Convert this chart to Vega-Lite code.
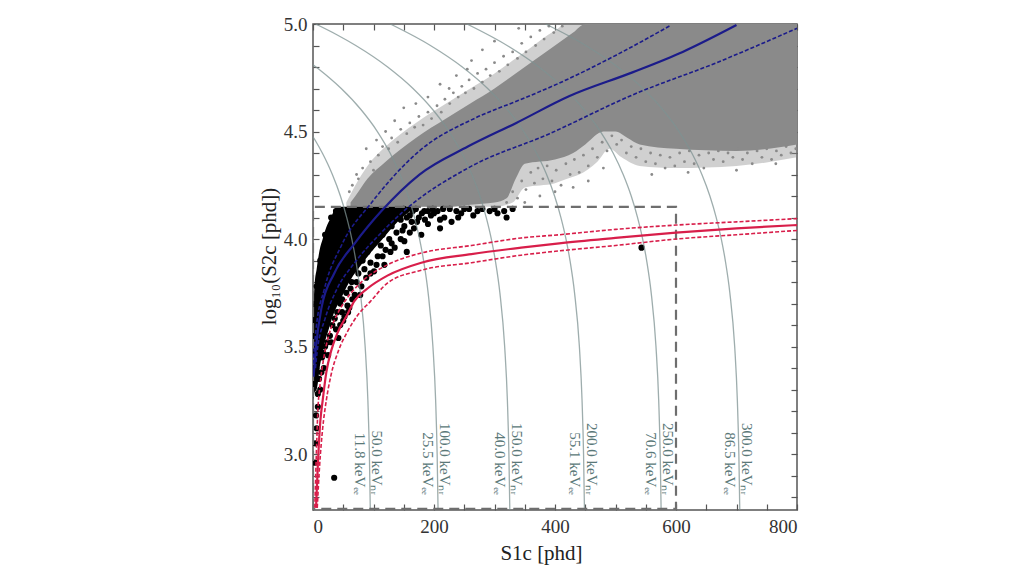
{
  "$schema": "https://vega.github.io/schema/vega-lite/v6.json",
  "autosize": {"type": "none"},
  "padding": {"left": 313, "top": 24, "right": 227, "bottom": 66},
  "width": 484,
  "height": 486,
  "background": "white",
  "datasets": {
    "contours": [
      {"e": "50", "s1": 94.7, "s2": 2.74}, {"e": "50", "s1": 93.2, "s2": 3.0}, {"e": "50", "s1": 90.7, "s2": 3.25}, {"e": "50", "s1": 86.2, "s2": 3.5},
      {"e": "50", "s1": 78.3, "s2": 3.75}, {"e": "50", "s1": 70.8, "s2": 3.9}, {"e": "50", "s1": 64.2, "s2": 4.0}, {"e": "50", "s1": 55.8, "s2": 4.1},
      {"e": "50", "s1": 45.3, "s2": 4.2}, {"e": "50", "s1": 32.0, "s2": 4.3}, {"e": "50", "s1": 24.2, "s2": 4.35}, {"e": "50", "s1": 15.4, "s2": 4.4},
      {"e": "50", "s1": 5.5, "s2": 4.45}, {"e": "50", "s1": 0, "s2": 4.475},
      {"e": "100", "s1": 206.7, "s2": 2.74}, {"e": "100", "s1": 205.2, "s2": 3.0}, {"e": "100", "s1": 202.7, "s2": 3.25}, {"e": "100", "s1": 198.2, "s2": 3.5},
      {"e": "100", "s1": 190.3, "s2": 3.75}, {"e": "100", "s1": 182.8, "s2": 3.9}, {"e": "100", "s1": 176.2, "s2": 4.0}, {"e": "100", "s1": 167.8, "s2": 4.1},
      {"e": "100", "s1": 157.3, "s2": 4.2}, {"e": "100", "s1": 144.0, "s2": 4.3}, {"e": "100", "s1": 127.4, "s2": 4.4}, {"e": "100", "s1": 106.4, "s2": 4.5},
      {"e": "100", "s1": 79.9, "s2": 4.6}, {"e": "100", "s1": 46.7, "s2": 4.7}, {"e": "100", "s1": 26.9, "s2": 4.75}, {"e": "100", "s1": 13.9, "s2": 4.78},
      {"e": "100", "s1": 4.8, "s2": 4.8}, {"e": "100", "s1": 0, "s2": 4.81},
      {"e": "150", "s1": 325.3, "s2": 2.74}, {"e": "150", "s1": 323.8, "s2": 3.0}, {"e": "150", "s1": 321.3, "s2": 3.25}, {"e": "150", "s1": 316.8, "s2": 3.5},
      {"e": "150", "s1": 308.9, "s2": 3.75}, {"e": "150", "s1": 301.4, "s2": 3.9}, {"e": "150", "s1": 294.8, "s2": 4.0}, {"e": "150", "s1": 286.4, "s2": 4.1},
      {"e": "150", "s1": 275.9, "s2": 4.2}, {"e": "150", "s1": 262.6, "s2": 4.3}, {"e": "150", "s1": 246.0, "s2": 4.4}, {"e": "150", "s1": 225.0, "s2": 4.5},
      {"e": "150", "s1": 198.5, "s2": 4.6}, {"e": "150", "s1": 165.3, "s2": 4.7}, {"e": "150", "s1": 123.4, "s2": 4.8}, {"e": "150", "s1": 70.7, "s2": 4.9},
      {"e": "150", "s1": 39.4, "s2": 4.95}, {"e": "150", "s1": 4.3, "s2": 5.0},
      {"e": "200", "s1": 448.7, "s2": 2.74}, {"e": "200", "s1": 447.2, "s2": 3.0}, {"e": "200", "s1": 444.7, "s2": 3.25}, {"e": "200", "s1": 440.3, "s2": 3.5},
      {"e": "200", "s1": 432.3, "s2": 3.75}, {"e": "200", "s1": 424.8, "s2": 3.9}, {"e": "200", "s1": 418.2, "s2": 4.0}, {"e": "200", "s1": 409.8, "s2": 4.1},
      {"e": "200", "s1": 399.3, "s2": 4.2}, {"e": "200", "s1": 386.1, "s2": 4.3}, {"e": "200", "s1": 369.4, "s2": 4.4}, {"e": "200", "s1": 348.4, "s2": 4.5},
      {"e": "200", "s1": 322.0, "s2": 4.6}, {"e": "200", "s1": 288.7, "s2": 4.7}, {"e": "200", "s1": 246.8, "s2": 4.8}, {"e": "200", "s1": 194.1, "s2": 4.9},
      {"e": "200", "s1": 127.7, "s2": 5.0},
      {"e": "250", "s1": 575.4, "s2": 2.74}, {"e": "250", "s1": 573.9, "s2": 3.0}, {"e": "250", "s1": 571.4, "s2": 3.25}, {"e": "250", "s1": 566.9, "s2": 3.5},
      {"e": "250", "s1": 559.0, "s2": 3.75}, {"e": "250", "s1": 551.5, "s2": 3.9}, {"e": "250", "s1": 544.9, "s2": 4.0}, {"e": "250", "s1": 536.5, "s2": 4.1},
      {"e": "250", "s1": 526.0, "s2": 4.2}, {"e": "250", "s1": 512.7, "s2": 4.3}, {"e": "250", "s1": 496.1, "s2": 4.4}, {"e": "250", "s1": 475.1, "s2": 4.5},
      {"e": "250", "s1": 448.6, "s2": 4.6}, {"e": "250", "s1": 415.4, "s2": 4.7}, {"e": "250", "s1": 373.5, "s2": 4.8}, {"e": "250", "s1": 320.8, "s2": 4.9},
      {"e": "250", "s1": 254.4, "s2": 5.0},
      {"e": "300", "s1": 705.4, "s2": 2.74}, {"e": "300", "s1": 703.9, "s2": 3.0}, {"e": "300", "s1": 701.4, "s2": 3.25}, {"e": "300", "s1": 697.0, "s2": 3.5},
      {"e": "300", "s1": 689.0, "s2": 3.75}, {"e": "300", "s1": 681.5, "s2": 3.9}, {"e": "300", "s1": 674.9, "s2": 4.0}, {"e": "300", "s1": 666.5, "s2": 4.1},
      {"e": "300", "s1": 656.0, "s2": 4.2}, {"e": "300", "s1": 642.8, "s2": 4.3}, {"e": "300", "s1": 626.1, "s2": 4.4}, {"e": "300", "s1": 605.1, "s2": 4.5},
      {"e": "300", "s1": 578.7, "s2": 4.6}, {"e": "300", "s1": 545.4, "s2": 4.7}, {"e": "300", "s1": 503.5, "s2": 4.8}, {"e": "300", "s1": 450.8, "s2": 4.9},
      {"e": "300", "s1": 384.4, "s2": 5.0}
    ],
    "labels": [
      {"s1": 93, "s2": 2.81, "label": "50.0 keVₙᵣ|11.8 keVₑₑ"},
      {"s1": 205, "s2": 2.81, "label": "100.0 keVₙᵣ|25.5 keVₑₑ"},
      {"s1": 324, "s2": 2.81, "label": "150.0 keVₙᵣ|40.0 keVₑₑ"},
      {"s1": 448, "s2": 2.81, "label": "200.0 keVₙᵣ|55.1 keVₑₑ"},
      {"s1": 574, "s2": 2.81, "label": "250.0 keVₙᵣ|70.6 keVₑₑ"},
      {"s1": 704, "s2": 2.81, "label": "300.0 keVₙᵣ|86.5 keVₑₑ"}
    ],
    "halo": [
      {"s1": 55, "lo": 4.15, "hi": 4.17}, {"s1": 70, "lo": 4.15, "hi": 4.25}, {"s1": 90, "lo": 4.15, "hi": 4.34}, {"s1": 120, "lo": 4.15, "hi": 4.43},
      {"s1": 170, "lo": 4.15, "hi": 4.54}, {"s1": 220, "lo": 4.15, "hi": 4.63}, {"s1": 260, "lo": 4.15, "hi": 4.7}, {"s1": 300, "lo": 4.15, "hi": 4.77},
      {"s1": 330, "lo": 4.17, "hi": 4.83}, {"s1": 350, "lo": 4.24, "hi": 4.87}, {"s1": 400, "lo": 4.26, "hi": 4.97}, {"s1": 420, "lo": 4.28, "hi": 5.0},
      {"s1": 440, "lo": 4.3, "hi": 5.0}, {"s1": 470, "lo": 4.36, "hi": 5.0}, {"s1": 490, "lo": 4.42, "hi": 5.0}, {"s1": 510, "lo": 4.38, "hi": 5.0},
      {"s1": 540, "lo": 4.34, "hi": 5.0}, {"s1": 600, "lo": 4.33, "hi": 5.0}, {"s1": 700, "lo": 4.34, "hi": 5.0}, {"s1": 800, "lo": 4.38, "hi": 5.0}
    ],
    "cloud": [
      {"s1": 62, "lo": 4.15, "hi": 4.17}, {"s1": 70, "lo": 4.15, "hi": 4.2}, {"s1": 90, "lo": 4.15, "hi": 4.28}, {"s1": 120, "lo": 4.15, "hi": 4.36},
      {"s1": 170, "lo": 4.15, "hi": 4.47}, {"s1": 220, "lo": 4.15, "hi": 4.56}, {"s1": 260, "lo": 4.16, "hi": 4.63}, {"s1": 300, "lo": 4.17, "hi": 4.7},
      {"s1": 320, "lo": 4.19, "hi": 4.74}, {"s1": 335, "lo": 4.28, "hi": 4.77}, {"s1": 350, "lo": 4.35, "hi": 4.8}, {"s1": 400, "lo": 4.37, "hi": 4.9},
      {"s1": 430, "lo": 4.4, "hi": 4.96}, {"s1": 450, "lo": 4.44, "hi": 5.0}, {"s1": 480, "lo": 4.5, "hi": 5.0}, {"s1": 500, "lo": 4.5, "hi": 5.0},
      {"s1": 520, "lo": 4.47, "hi": 5.0}, {"s1": 540, "lo": 4.44, "hi": 5.0}, {"s1": 600, "lo": 4.42, "hi": 5.0}, {"s1": 700, "lo": 4.41, "hi": 5.0},
      {"s1": 800, "lo": 4.44, "hi": 5.0}
    ],
    "fringe": [
      {"s1": 60, "s2": 4.22}, {"s1": 65, "s2": 4.25}, {"s1": 75, "s2": 4.28}, {"s1": 82, "s2": 4.33}, {"s1": 95, "s2": 4.36}, {"s1": 100, "s2": 4.32},
      {"s1": 108, "s2": 4.39}, {"s1": 115, "s2": 4.43}, {"s1": 125, "s2": 4.42}, {"s1": 130, "s2": 4.47}, {"s1": 140, "s2": 4.45}, {"s1": 145, "s2": 4.51},
      {"s1": 155, "s2": 4.49}, {"s1": 160, "s2": 4.54}, {"s1": 168, "s2": 4.52}, {"s1": 175, "s2": 4.57}, {"s1": 182, "s2": 4.53}, {"s1": 190, "s2": 4.59},
      {"s1": 196, "s2": 4.56}, {"s1": 205, "s2": 4.62}, {"s1": 212, "s2": 4.59}, {"s1": 218, "s2": 4.65}, {"s1": 226, "s2": 4.63}, {"s1": 232, "s2": 4.68},
      {"s1": 240, "s2": 4.66}, {"s1": 246, "s2": 4.71}, {"s1": 252, "s2": 4.68}, {"s1": 258, "s2": 4.74}, {"s1": 266, "s2": 4.7}, {"s1": 272, "s2": 4.77},
      {"s1": 280, "s2": 4.73}, {"s1": 286, "s2": 4.79}, {"s1": 293, "s2": 4.76}, {"s1": 300, "s2": 4.82}, {"s1": 308, "s2": 4.78}, {"s1": 315, "s2": 4.85},
      {"s1": 322, "s2": 4.81}, {"s1": 330, "s2": 4.87}, {"s1": 338, "s2": 4.84}, {"s1": 345, "s2": 4.91}, {"s1": 352, "s2": 4.87}, {"s1": 360, "s2": 4.94},
      {"s1": 368, "s2": 4.9}, {"s1": 375, "s2": 4.97}, {"s1": 382, "s2": 4.93}, {"s1": 390, "s2": 4.99}, {"s1": 398, "s2": 4.96}, {"s1": 412, "s2": 4.99},
      {"s1": 150, "s2": 4.61}, {"s1": 210, "s2": 4.72}, {"s1": 262, "s2": 4.83}, {"s1": 300, "s2": 4.92}, {"s1": 340, "s2": 4.98}, {"s1": 120, "s2": 4.5},
      {"s1": 88, "s2": 4.42}, {"s1": 190, "s2": 4.66}, {"s1": 237, "s2": 4.76}, {"s1": 280, "s2": 4.88}, {"s1": 105, "s2": 4.46}, {"s1": 170, "s2": 4.63},
      {"s1": 225, "s2": 4.7}, {"s1": 72, "s2": 4.3}, {"s1": 135, "s2": 4.55}, {"s1": 255, "s2": 4.79},
      {"s1": 320, "s2": 4.17}, {"s1": 330, "s2": 4.22}, {"s1": 338, "s2": 4.19}, {"s1": 345, "s2": 4.27}, {"s1": 352, "s2": 4.23}, {"s1": 360, "s2": 4.31},
      {"s1": 366, "s2": 4.26}, {"s1": 372, "s2": 4.33}, {"s1": 380, "s2": 4.28}, {"s1": 387, "s2": 4.34}, {"s1": 395, "s2": 4.27}, {"s1": 402, "s2": 4.32},
      {"s1": 410, "s2": 4.25}, {"s1": 418, "s2": 4.35}, {"s1": 425, "s2": 4.3}, {"s1": 432, "s2": 4.37}, {"s1": 440, "s2": 4.31}, {"s1": 447, "s2": 4.39},
      {"s1": 455, "s2": 4.34}, {"s1": 462, "s2": 4.42}, {"s1": 470, "s2": 4.38}, {"s1": 478, "s2": 4.45}, {"s1": 486, "s2": 4.41}, {"s1": 494, "s2": 4.48},
      {"s1": 502, "s2": 4.44}, {"s1": 510, "s2": 4.46}, {"s1": 518, "s2": 4.4}, {"s1": 526, "s2": 4.43}, {"s1": 534, "s2": 4.38}, {"s1": 542, "s2": 4.42},
      {"s1": 550, "s2": 4.36}, {"s1": 558, "s2": 4.4}, {"s1": 566, "s2": 4.35}, {"s1": 574, "s2": 4.39}, {"s1": 582, "s2": 4.33}, {"s1": 590, "s2": 4.38},
      {"s1": 598, "s2": 4.34}, {"s1": 606, "s2": 4.4}, {"s1": 614, "s2": 4.36}, {"s1": 622, "s2": 4.41}, {"s1": 630, "s2": 4.35}, {"s1": 638, "s2": 4.39},
      {"s1": 646, "s2": 4.33}, {"s1": 654, "s2": 4.4}, {"s1": 662, "s2": 4.37}, {"s1": 670, "s2": 4.41}, {"s1": 678, "s2": 4.36}, {"s1": 686, "s2": 4.4},
      {"s1": 694, "s2": 4.38}, {"s1": 702, "s2": 4.42}, {"s1": 710, "s2": 4.37}, {"s1": 718, "s2": 4.4}, {"s1": 726, "s2": 4.35}, {"s1": 734, "s2": 4.41},
      {"s1": 742, "s2": 4.38}, {"s1": 750, "s2": 4.42}, {"s1": 758, "s2": 4.37}, {"s1": 766, "s2": 4.41}, {"s1": 774, "s2": 4.39}, {"s1": 782, "s2": 4.43},
      {"s1": 790, "s2": 4.4}, {"s1": 798, "s2": 4.42},
      {"s1": 400, "s2": 4.22}, {"s1": 430, "s2": 4.24}, {"s1": 560, "s2": 4.3}, {"s1": 620, "s2": 4.31}, {"s1": 700, "s2": 4.32}, {"s1": 765, "s2": 4.35},
      {"s1": 480, "s2": 4.33}, {"s1": 350, "s2": 4.17}, {"s1": 375, "s2": 4.2}, {"s1": 455, "s2": 4.27}
    ],
    "core": [
      {"s1": 0, "lo": 3.25, "hi": 3.62}, {"s1": 1, "lo": 3.27, "hi": 3.7}, {"s1": 3, "lo": 3.29, "hi": 3.8}, {"s1": 6, "lo": 3.3, "hi": 3.86},
      {"s1": 8, "lo": 3.33, "hi": 3.9}, {"s1": 11, "lo": 3.4, "hi": 3.95}, {"s1": 16, "lo": 3.47, "hi": 4.0}, {"s1": 18, "lo": 3.5, "hi": 4.02},
      {"s1": 26, "lo": 3.58, "hi": 4.08}, {"s1": 28, "lo": 3.6, "hi": 4.09}, {"s1": 40, "lo": 3.69, "hi": 4.15}, {"s1": 42, "lo": 3.7, "hi": 4.15},
      {"s1": 60, "lo": 3.8, "hi": 4.15}, {"s1": 85, "lo": 3.9, "hi": 4.15}, {"s1": 115, "lo": 4.0, "hi": 4.15}, {"s1": 140, "lo": 4.08, "hi": 4.15},
      {"s1": 165, "lo": 4.14, "hi": 4.15}
    ],
    "search": [
      {"s1": 217, "s2": 4.1}, {"s1": 229, "s2": 4.08}, {"s1": 245, "s2": 4.12}, {"s1": 272, "s2": 4.13}, {"s1": 292, "s2": 4.13}, {"s1": 316, "s2": 4.13},
      {"s1": 320, "s2": 4.1}, {"s1": 258, "s2": 4.14}, {"s1": 237, "s2": 4.13}, {"s1": 206, "s2": 4.13}, {"s1": 184, "s2": 4.13}, {"s1": 179, "s2": 4.02},
      {"s1": 151, "s2": 3.99}, {"s1": 118, "s2": 3.88}, {"s1": 107, "s2": 3.92}, {"s1": 101, "s2": 3.85}, {"s1": 151, "s2": 4.06}, {"s1": 172, "s2": 4.08},
      {"s1": 167, "s2": 4.05}, {"s1": 135, "s2": 3.96}, {"s1": 126, "s2": 4.0}, {"s1": 69, "s2": 3.74}, {"s1": 57, "s2": 3.69}, {"s1": 195, "s2": 4.11},
      {"s1": 160, "s2": 4.11}, {"s1": 145, "s2": 4.09}, {"s1": 138, "s2": 4.03}, {"s1": 128, "s2": 3.94}, {"s1": 112, "s2": 3.97}, {"s1": 95, "s2": 3.89},
      {"s1": 88, "s2": 3.82}, {"s1": 80, "s2": 3.78}, {"s1": 75, "s2": 3.84}, {"s1": 62, "s2": 3.77}, {"s1": 50, "s2": 3.62}, {"s1": 45, "s2": 3.7},
      {"s1": 38, "s2": 3.58}, {"s1": 30, "s2": 3.52}, {"s1": 25, "s2": 3.46}, {"s1": 18, "s2": 3.4}, {"s1": 12, "s2": 3.3}, {"s1": 8, "s2": 3.22},
      {"s1": 6, "s2": 3.12}, {"s1": 4, "s2": 3.05}, {"s1": 3, "s2": 2.96}, {"s1": 5, "s2": 3.18}, {"s1": 10, "s2": 3.35}, {"s1": 35, "s2": 2.89},
      {"s1": 543, "s2": 3.96}, {"s1": 60, "s2": 3.68}, {"s1": 52, "s2": 3.64}, {"s1": 42, "s2": 3.54}, {"s1": 155, "s2": 3.94}, {"s1": 165, "s2": 4.13},
      {"s1": 175, "s2": 4.1}, {"s1": 190, "s2": 4.07}, {"s1": 200, "s2": 4.12}, {"s1": 226, "s2": 4.14}, {"s1": 210, "s2": 4.05}, {"s1": 123, "s2": 4.08},
      {"s1": 140, "s2": 4.12}, {"s1": 110, "s2": 4.05}, {"s1": 100, "s2": 3.98}, {"s1": 90, "s2": 3.94}, {"s1": 82, "s2": 3.9}, {"s1": 70, "s2": 3.86},
      {"s1": 64, "s2": 3.8}, {"s1": 55, "s2": 3.75}, {"s1": 48, "s2": 3.72}, {"s1": 40, "s2": 3.66}, {"s1": 32, "s2": 3.6}, {"s1": 20, "s2": 3.5},
      {"s1": 15, "s2": 3.45}, {"s1": 150, "s2": 4.14}, {"s1": 170, "s2": 4.14}, {"s1": 155, "s2": 4.1}, {"s1": 180, "s2": 4.12}, {"s1": 185, "s2": 4.09},
      {"s1": 198, "s2": 4.14}, {"s1": 215, "s2": 4.14}, {"s1": 250, "s2": 4.14}, {"s1": 280, "s2": 4.14}, {"s1": 300, "s2": 4.14}, {"s1": 305, "s2": 4.12},
      {"s1": 330, "s2": 4.14}, {"s1": 265, "s2": 4.11}, {"s1": 240, "s2": 4.1}, {"s1": 160, "s2": 4.03}, {"s1": 145, "s2": 4.0}, {"s1": 130, "s2": 3.98},
      {"s1": 120, "s2": 3.95}, {"s1": 115, "s2": 3.92}, {"s1": 105, "s2": 3.88}, {"s1": 95, "s2": 3.84}, {"s1": 85, "s2": 3.86}, {"s1": 78, "s2": 3.74},
      {"s1": 72, "s2": 3.8}, {"s1": 65, "s2": 3.72}, {"s1": 58, "s2": 3.66}, {"s1": 48, "s2": 3.66}, {"s1": 45, "s2": 3.6}, {"s1": 36, "s2": 3.63},
      {"s1": 28, "s2": 3.55}, {"s1": 24, "s2": 3.52}, {"s1": 17, "s2": 3.47}, {"s1": 14, "s2": 3.38}, {"s1": 8, "s2": 3.28}, {"s1": 7, "s2": 3.35},
      {"s1": 130, "s2": 4.06}, {"s1": 148, "s2": 4.04}, {"s1": 163, "s2": 4.08}, {"s1": 190, "s2": 4.13}, {"s1": 210, "s2": 4.09}, {"s1": 115, "s2": 4.02},
      {"s1": 105, "s2": 4.0}, {"s1": 95, "s2": 3.96}, {"s1": 85, "s2": 3.93}, {"s1": 2, "s2": 3.55}, {"s1": 3, "s2": 3.66}, {"s1": 6, "s2": 3.78},
      {"s1": 12, "s2": 3.9}, {"s1": 20, "s2": 4.02}, {"s1": 30, "s2": 4.1}, {"s1": 38, "s2": 4.13}
    ],
    "box": [
      {"i": 0, "s1": 0, "s2": 2.745}, {"i": 1, "s1": 0, "s2": 4.15}, {"i": 2, "s1": 600, "s2": 4.15}, {"i": 3, "s1": 600, "s2": 2.745}, {"i": 4, "s1": 0, "s2": 2.745}
    ],
    "bands": [
      {"band": "NR", "kind": "median", "s1": 5, "s2": 2.75}, {"band": "NR", "kind": "median", "s1": 8, "s2": 2.95}, {"band": "NR", "kind": "median", "s1": 12, "s2": 3.15},
      {"band": "NR", "kind": "median", "s1": 16, "s2": 3.25}, {"band": "NR", "kind": "median", "s1": 22, "s2": 3.38}, {"band": "NR", "kind": "median", "s1": 30, "s2": 3.48},
      {"band": "NR", "kind": "median", "s1": 40, "s2": 3.56}, {"band": "NR", "kind": "median", "s1": 57, "s2": 3.65}, {"band": "NR", "kind": "median", "s1": 68, "s2": 3.71},
      {"band": "NR", "kind": "median", "s1": 90, "s2": 3.77}, {"band": "NR", "kind": "median", "s1": 123, "s2": 3.83}, {"band": "NR", "kind": "median", "s1": 179, "s2": 3.89},
      {"band": "NR", "kind": "median", "s1": 262, "s2": 3.93}, {"band": "NR", "kind": "median", "s1": 344, "s2": 3.96}, {"band": "NR", "kind": "median", "s1": 407, "s2": 3.98},
      {"band": "NR", "kind": "median", "s1": 500, "s2": 4.005}, {"band": "NR", "kind": "median", "s1": 600, "s2": 4.03}, {"band": "NR", "kind": "median", "s1": 700, "s2": 4.05},
      {"band": "NR", "kind": "median", "s1": 800, "s2": 4.065},
      {"band": "NR", "kind": "upper", "s1": 3, "s2": 2.75}, {"band": "NR", "kind": "upper", "s1": 5, "s2": 2.95}, {"band": "NR", "kind": "upper", "s1": 8, "s2": 3.2},
      {"band": "NR", "kind": "upper", "s1": 12, "s2": 3.33}, {"band": "NR", "kind": "upper", "s1": 18, "s2": 3.45}, {"band": "NR", "kind": "upper", "s1": 27, "s2": 3.56},
      {"band": "NR", "kind": "upper", "s1": 40, "s2": 3.65}, {"band": "NR", "kind": "upper", "s1": 55, "s2": 3.72}, {"band": "NR", "kind": "upper", "s1": 80, "s2": 3.8},
      {"band": "NR", "kind": "upper", "s1": 123, "s2": 3.88}, {"band": "NR", "kind": "upper", "s1": 179, "s2": 3.935}, {"band": "NR", "kind": "upper", "s1": 262, "s2": 3.97},
      {"band": "NR", "kind": "upper", "s1": 344, "s2": 4.005}, {"band": "NR", "kind": "upper", "s1": 407, "s2": 4.02}, {"band": "NR", "kind": "upper", "s1": 500, "s2": 4.045},
      {"band": "NR", "kind": "upper", "s1": 600, "s2": 4.065}, {"band": "NR", "kind": "upper", "s1": 700, "s2": 4.08}, {"band": "NR", "kind": "upper", "s1": 800, "s2": 4.095},
      {"band": "NR", "kind": "lower", "s1": 7, "s2": 2.75}, {"band": "NR", "kind": "lower", "s1": 11, "s2": 2.95}, {"band": "NR", "kind": "lower", "s1": 16, "s2": 3.12},
      {"band": "NR", "kind": "lower", "s1": 22, "s2": 3.25}, {"band": "NR", "kind": "lower", "s1": 30, "s2": 3.37}, {"band": "NR", "kind": "lower", "s1": 42, "s2": 3.48},
      {"band": "NR", "kind": "lower", "s1": 57, "s2": 3.57}, {"band": "NR", "kind": "lower", "s1": 75, "s2": 3.65}, {"band": "NR", "kind": "lower", "s1": 95, "s2": 3.71},
      {"band": "NR", "kind": "lower", "s1": 123, "s2": 3.795}, {"band": "NR", "kind": "lower", "s1": 179, "s2": 3.855}, {"band": "NR", "kind": "lower", "s1": 262, "s2": 3.89},
      {"band": "NR", "kind": "lower", "s1": 344, "s2": 3.925}, {"band": "NR", "kind": "lower", "s1": 407, "s2": 3.945}, {"band": "NR", "kind": "lower", "s1": 500, "s2": 3.97},
      {"band": "NR", "kind": "lower", "s1": 600, "s2": 4.0}, {"band": "NR", "kind": "lower", "s1": 700, "s2": 4.02}, {"band": "NR", "kind": "lower", "s1": 800, "s2": 4.04},
      {"band": "ER", "kind": "median", "s1": 1, "s2": 3.36}, {"band": "ER", "kind": "median", "s1": 5, "s2": 3.5}, {"band": "ER", "kind": "median", "s1": 14, "s2": 3.68},
      {"band": "ER", "kind": "median", "s1": 35, "s2": 3.84}, {"band": "ER", "kind": "median", "s1": 69, "s2": 3.98}, {"band": "ER", "kind": "median", "s1": 113, "s2": 4.13},
      {"band": "ER", "kind": "median", "s1": 176, "s2": 4.3}, {"band": "ER", "kind": "median", "s1": 256, "s2": 4.43}, {"band": "ER", "kind": "median", "s1": 336, "s2": 4.54},
      {"band": "ER", "kind": "median", "s1": 424, "s2": 4.665}, {"band": "ER", "kind": "median", "s1": 528, "s2": 4.775}, {"band": "ER", "kind": "median", "s1": 611, "s2": 4.87},
      {"band": "ER", "kind": "median", "s1": 700, "s2": 4.995},
      {"band": "ER", "kind": "upper", "s1": 0, "s2": 3.42}, {"band": "ER", "kind": "upper", "s1": 5, "s2": 3.58}, {"band": "ER", "kind": "upper", "s1": 19, "s2": 3.77},
      {"band": "ER", "kind": "upper", "s1": 47, "s2": 3.97}, {"band": "ER", "kind": "upper", "s1": 97, "s2": 4.17}, {"band": "ER", "kind": "upper", "s1": 176, "s2": 4.41},
      {"band": "ER", "kind": "upper", "s1": 270, "s2": 4.565}, {"band": "ER", "kind": "upper", "s1": 340, "s2": 4.645}, {"band": "ER", "kind": "upper", "s1": 407, "s2": 4.725},
      {"band": "ER", "kind": "upper", "s1": 501, "s2": 4.855}, {"band": "ER", "kind": "upper", "s1": 592, "s2": 4.995},
      {"band": "ER", "kind": "lower", "s1": 4, "s2": 3.4}, {"band": "ER", "kind": "lower", "s1": 7, "s2": 3.48}, {"band": "ER", "kind": "lower", "s1": 20, "s2": 3.63},
      {"band": "ER", "kind": "lower", "s1": 40, "s2": 3.77}, {"band": "ER", "kind": "lower", "s1": 69, "s2": 3.89}, {"band": "ER", "kind": "lower", "s1": 113, "s2": 4.03},
      {"band": "ER", "kind": "lower", "s1": 150, "s2": 4.13}, {"band": "ER", "kind": "lower", "s1": 256, "s2": 4.33}, {"band": "ER", "kind": "lower", "s1": 391, "s2": 4.49},
      {"band": "ER", "kind": "lower", "s1": 528, "s2": 4.67}, {"band": "ER", "kind": "lower", "s1": 667, "s2": 4.82}, {"band": "ER", "kind": "lower", "s1": 800, "s2": 4.98}
    ]
  },
  "layer": [
    {
      "data": {"name": "halo"},
      "mark": {"type": "area", "color": "#8a8a8a", "opacity": 0.4, "interpolate": "monotone", "clip": true},
      "encoding": {
        "x": {"field": "s1", "type": "quantitative", "scale": {"domain": [0, 800], "nice": false, "zero": false}, "axis": null},
        "y": {"field": "lo", "type": "quantitative", "scale": {"domain": [2.74, 5.0], "nice": false, "zero": false}, "axis": null},
        "y2": {"field": "hi"}
      }
    },
    {
      "data": {"name": "cloud"},
      "mark": {"type": "area", "color": "#8a8a8a", "interpolate": "monotone", "clip": true},
      "encoding": {
        "x": {"field": "s1", "type": "quantitative", "axis": null},
        "y": {"field": "lo", "type": "quantitative", "axis": null},
        "y2": {"field": "hi"}
      }
    },
    {
      "data": {"name": "fringe"},
      "mark": {"type": "circle", "color": "#8a8a8a", "size": 8, "opacity": 1, "clip": true},
      "encoding": {
        "x": {"field": "s1", "type": "quantitative", "axis": null},
        "y": {"field": "s2", "type": "quantitative", "axis": null}
      }
    },
    {
      "data": {"name": "core"},
      "mark": {"type": "area", "color": "#000000", "interpolate": "monotone", "clip": true},
      "encoding": {
        "x": {"field": "s1", "type": "quantitative", "axis": null},
        "y": {"field": "lo", "type": "quantitative", "axis": null},
        "y2": {"field": "hi"}
      }
    },
    {
      "data": {"name": "search"},
      "mark": {"type": "circle", "color": "#000000", "size": 38, "opacity": 1, "clip": true},
      "encoding": {
        "x": {"field": "s1", "type": "quantitative", "axis": null},
        "y": {"field": "s2", "type": "quantitative", "axis": null}
      }
    },
    {
      "data": {"name": "contours"},
      "mark": {"type": "line", "color": "#7d9191", "strokeWidth": 1.3, "opacity": 0.75, "interpolate": "monotone", "clip": true},
      "encoding": {
        "x": {
          "field": "s1", "type": "quantitative",
          "axis": {
            "orient": "bottom", "values": [0, 50, 100, 150, 200, 250, 300, 350, 400, 450, 500, 550, 600, 650, 700, 750, 800],
            "labelExpr": "datum.value % 200 === 0 ? datum.label : ''",
            "title": "S1c [phd]", "tickSize": -6, "labelPadding": 13, "titlePadding": 6, "titleX": 228
          }
        },
        "y": {
          "field": "s2", "type": "quantitative",
          "axis": {
            "orient": "left", "values": [2.8, 2.9, 3.0, 3.1, 3.2, 3.3, 3.4, 3.5, 3.6, 3.7, 3.8, 3.9, 4.0, 4.1, 4.2, 4.3, 4.4, 4.5, 4.6, 4.7, 4.8, 4.9, 5.0],
            "labelExpr": "abs(datum.value * 2 - round(datum.value * 2)) < 0.001 ? format(datum.value, '.1f') : ''",
            "title": "log₁₀(S2c [phd])", "tickSize": -6, "labelPadding": 12, "titlePadding": 4, "titleY": 232
          }
        },
        "detail": {"field": "e", "type": "nominal"}
      }
    },
    {
      "data": {"name": "box"},
      "mark": {"type": "line", "color": "#6e6e6e", "strokeWidth": 2.2, "strokeDash": [10, 6], "clip": true},
      "encoding": {
        "x": {
          "field": "s1", "type": "quantitative",
          "axis": {"orient": "top", "values": [0, 50, 100, 150, 200, 250, 300, 350, 400, 450, 500, 550, 600, 650, 700, 750, 800], "labels": false, "title": null, "tickSize": -6}
        },
        "y": {
          "field": "s2", "type": "quantitative",
          "axis": {"orient": "right", "values": [2.8, 2.9, 3.0, 3.1, 3.2, 3.3, 3.4, 3.5, 3.6, 3.7, 3.8, 3.9, 4.0, 4.1, 4.2, 4.3, 4.4, 4.5, 4.6, 4.7, 4.8, 4.9, 5.0], "labels": false, "title": null, "tickSize": -6}
        },
        "order": {"field": "i", "type": "quantitative"}
      }
    },
    {
      "data": {"name": "bands"},
      "transform": [{"filter": "datum.kind !== 'median'"}],
      "mark": {"type": "line", "strokeWidth": 1.6, "strokeDash": [4, 2], "interpolate": "monotone", "clip": true},
      "encoding": {
        "x": {"field": "s1", "type": "quantitative", "axis": null},
        "y": {"field": "s2", "type": "quantitative", "axis": null},
        "color": {"field": "band", "type": "nominal", "scale": {"domain": ["NR", "ER"], "range": ["#d81e4a", "#1b1b8a"]}, "legend": null},
        "detail": {"field": "kind", "type": "nominal"}
      }
    },
    {
      "data": {"name": "bands"},
      "transform": [{"filter": "datum.kind === 'median'"}],
      "mark": {"type": "line", "strokeWidth": 2.2, "interpolate": "monotone", "clip": true},
      "encoding": {
        "x": {"field": "s1", "type": "quantitative", "axis": null},
        "y": {"field": "s2", "type": "quantitative", "axis": null},
        "color": {"field": "band", "type": "nominal", "legend": null}
      }
    },
    {
      "data": {"name": "labels"},
      "mark": {"type": "text", "angle": 90, "align": "right", "baseline": "middle", "dy": -8, "lineBreak": "|", "lineHeight": 17, "font": "Liberation Serif", "fontSize": 15, "color": "#5a7878"},
      "encoding": {
        "x": {"field": "s1", "type": "quantitative", "axis": null},
        "y": {"field": "s2", "type": "quantitative", "axis": null},
        "text": {"field": "label", "type": "nominal"}
      }
    }
  ],
  "resolve": {"axis": {"x": "independent", "y": "independent"}},
  "config": {
    "view": {"stroke": "#555555", "strokeWidth": 1.5},
    "axis": {
      "domain": false, "grid": false, "ticks": true, "tickColor": "#555555", "tickWidth": 1.2,
      "labelFont": "Liberation Serif", "labelFontSize": 19, "labelColor": "#333333",
      "titleFont": "Liberation Serif", "titleFontSize": 21, "titleFontWeight": "normal", "titleColor": "#222222"
    }
  }
}
